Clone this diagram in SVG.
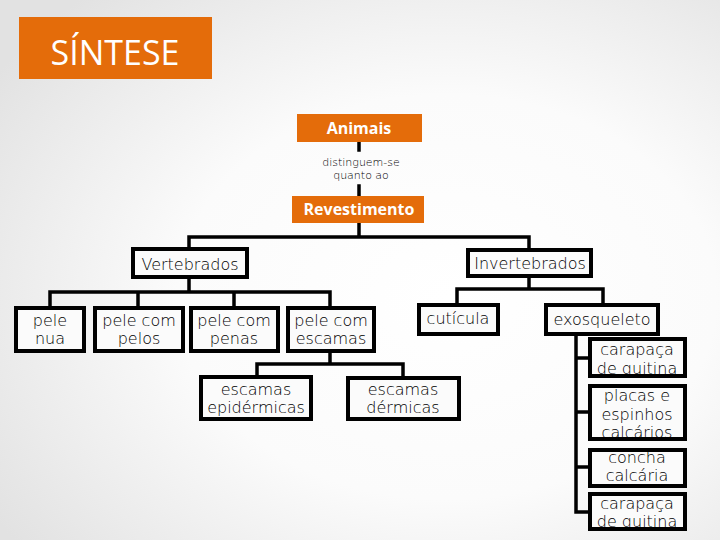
<svg xmlns="http://www.w3.org/2000/svg" width="720" height="540" viewBox="0 0 720 540">
<defs>
<radialGradient id="bg" cx="62%" cy="55%" r="75%">
<stop offset="0" stop-color="#ffffff"/>
<stop offset="0.5" stop-color="#fbfbfb"/>
<stop offset="1" stop-color="#e2e2e2"/>
</radialGradient>
<style>
.box{fill:#fbfbfb;stroke:#000;stroke-width:4}
.org{fill:#e46c0a}
.t{font-family:"DejaVu Sans",sans-serif;font-size:16px;font-weight:200;fill:#000;text-anchor:middle}
.s{font-family:"DejaVu Sans",sans-serif;font-size:11px;font-weight:200;fill:#000;text-anchor:middle}
.b{font-family:"Open Sans","Liberation Sans",sans-serif;font-size:16px;font-weight:bold;fill:#fff;text-anchor:middle}
.c{fill:none;stroke:#000;stroke-width:3.5;stroke-linecap:square}
</style>
</defs>
<rect width="720" height="540" fill="url(#bg)"/>
<g id="title">
<rect class="org" x="19" y="17" width="193" height="62"/>
<text x="115" y="65" font-family="Open Sans, Liberation Sans, sans-serif" font-size="34" fill="#fff" text-anchor="middle">SÍNTESE</text>
</g>
<g id="connectors">
<path class="c" d="M359 142V150M359 186V196M359 223V237M189 237H529M189 237V248M529 237V248"/>
<path class="c" d="M189 278V292M50 292H330M50 292V306M138 292V306M234 292V306M330 292V306"/>
<path class="c" d="M330 352V364M257 364H403M257 364V375M403 364V375"/>
<path class="c" d="M529 277V289M457 289H603M457 289V303M603 289V303"/>
<path class="c" d="M576 335V512M576 358H590M576 412H590M576 467H590M576 512H590"/>
</g>
<g id="animais">
<rect class="org" x="297" y="114" width="125" height="28"/>
<text class="b" x="359" y="134">Animais</text>
</g>
<g id="label-distinguem">
<text class="s" x="361" y="166">distinguem-se</text>
<text class="s" x="361" y="179">quanto ao</text>
</g>
<g id="revestimento">
<rect class="org" x="292" y="196" width="132" height="27"/>
<text class="b" x="359" y="215">Revestimento</text>
</g>
<g id="vertebrados">
<rect class="box" x="133" y="249" width="114" height="28"/>
<text class="t" x="190" y="270">Vertebrados</text>
</g>
<g id="invertebrados">
<rect class="box" x="468" y="250" width="123" height="26"/>
<text class="t" x="530" y="269">Invertebrados</text>
</g>
<g id="pele-nua">
<rect class="box" x="16" y="308" width="68" height="43"/>
<text class="t" x="50" y="326">pele</text>
<text class="t" x="50" y="344">nua</text>
</g>
<g id="pele-pelos">
<rect class="box" x="95" y="308" width="88" height="43"/>
<text class="t" x="139" y="326">pele com</text>
<text class="t" x="139" y="344">pelos</text>
</g>
<g id="pele-penas">
<rect class="box" x="191" y="308" width="87" height="43"/>
<text class="t" x="234" y="326">pele com</text>
<text class="t" x="234" y="344">penas</text>
</g>
<g id="pele-escamas">
<rect class="box" x="288" y="308" width="86" height="43"/>
<text class="t" x="331" y="326">pele com</text>
<text class="t" x="331" y="344">escamas</text>
</g>
<g id="escamas-epidermicas">
<rect class="box" x="201" y="377" width="110" height="42"/>
<text class="t" x="256" y="395">escamas</text>
<text class="t" x="256" y="413">epidérmicas</text>
</g>
<g id="escamas-dermicas">
<rect class="box" x="348" y="378" width="111" height="41"/>
<text class="t" x="403" y="395">escamas</text>
<text class="t" x="403" y="413">dérmicas</text>
</g>
<g id="cuticula">
<rect class="box" x="419" y="305" width="79" height="29"/>
<text class="t" x="458" y="324">cutícula</text>
</g>
<g id="exosqueleto">
<rect class="box" x="546" y="305" width="112" height="29"/>
<text class="t" x="602" y="325">exosqueleto</text>
</g>
<g id="carapaca1">
<rect class="box" x="590" y="339" width="95" height="37"/>
<text class="t" x="637" y="355">carapaça</text>
<text class="t" x="637" y="374">de quitina</text>
</g>
<g id="placas">
<rect class="box" x="590" y="386" width="95" height="53"/>
<text class="t" x="637" y="401">placas e</text>
<text class="t" x="637" y="420">espinhos</text>
<text class="t" x="637" y="438">calcários</text>
</g>
<g id="concha">
<rect class="box" x="590" y="450" width="95" height="36"/>
<text class="t" x="637" y="463">concha</text>
<text class="t" x="637" y="481">calcária</text>
</g>
<g id="carapaca2">
<rect class="box" x="590" y="494" width="95" height="35"/>
<text class="t" x="637" y="509">carapaça</text>
<text class="t" x="637" y="527">de quitina</text>
</g>
</svg>
